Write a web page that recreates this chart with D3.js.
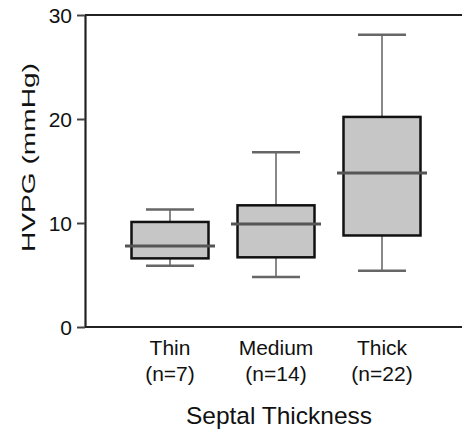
<!DOCTYPE html>
<html>
<head>
<meta charset="utf-8">
<script src="https://cdn.jsdelivr.net/npm/d3@7"></script>
<style>
    body { margin: 0; background: #fff; }
    text { font-family: "Liberation Sans", Arial, sans-serif; fill: #111; }
</style>
</head>
<body>
<div class="chart"></div>
<script>
var categories = ['Thin', 'Medium', 'Thick'];
var nLabels = ['(n=7)', '(n=14)', '(n=22)'];
var whiskerLow = [5.9, 4.8, 5.4];
var q1 = [6.6, 6.7, 8.8];
var median = [7.8, 9.9, 14.8];
var q3 = [10.1, 11.7, 20.2];
var whiskerHigh = [11.3, 16.8, 28.1];
var yTicks = [0, 10, 20, 30];

draw();

function draw() {
    var width = 462;
    var height = 436;

    var boxes = categories.map(function (c, i) {
        return {
            label: c,
            n: nLabels[i],
            low: whiskerLow[i],
            q1: q1[i],
            median: median[i],
            q3: q3[i],
            high: whiskerHigh[i]
        };
    });

    var svg = d3.select('.chart')
        .append('svg')
        .attr('width', width)
        .attr('height', height);

    var x = d3.scalePoint()
        .domain(categories)
        .range([170, 382]);

    var y = d3.scaleLinear()
        .domain([0, 30])
        .range([327, 15]);

    var axisX = 85;
    var boxW = 77;
    var medW = 90;
    var capW = 48;

    // top frame line
    svg.append('line')
        .attr('x1', axisX).attr('x2', width)
        .attr('y1', y(30)).attr('y2', y(30))
        .attr('stroke', '#222').attr('stroke-width', 2.2);

    // y axis
    var yAxis = svg.append('g')
        .attr('transform', 'translate(' + axisX + ',0)')
        .call(d3.axisLeft(y).tickValues(yTicks).tickSize(8).tickPadding(5).tickSizeOuter(0));
    yAxis.select('.domain').attr('stroke', '#222').attr('stroke-width', 2.2);
    yAxis.selectAll('.tick line').attr('stroke', '#444').attr('stroke-width', 2);
    yAxis.selectAll('.tick text')
        .style('font-size', '21px')
        .attr('fill', '#111')
        .attr('dy', '0.36em');

    // x axis line
    svg.append('line')
        .attr('x1', axisX).attr('x2', width)
        .attr('y1', y(0)).attr('y2', y(0))
        .attr('stroke', '#222').attr('stroke-width', 2.2);

    var g = svg.selectAll('.box')
        .data(boxes)
        .enter()
        .append('g')
        .attr('class', 'box');

    // whisker stems
    g.append('line')
        .attr('x1', function (d) { return x(d.label); })
        .attr('x2', function (d) { return x(d.label); })
        .attr('y1', function (d) { return y(d.high); })
        .attr('y2', function (d) { return y(d.q3); })
        .attr('stroke', '#888').attr('stroke-width', 2);
    g.append('line')
        .attr('x1', function (d) { return x(d.label); })
        .attr('x2', function (d) { return x(d.label); })
        .attr('y1', function (d) { return y(d.q1); })
        .attr('y2', function (d) { return y(d.low); })
        .attr('stroke', '#888').attr('stroke-width', 2);

    // whisker caps
    ['high', 'low'].forEach(function (k) {
        g.append('line')
            .attr('x1', function (d) { return x(d.label) - capW / 2; })
            .attr('x2', function (d) { return x(d.label) + capW / 2; })
            .attr('y1', function (d) { return y(d[k]); })
            .attr('y2', function (d) { return y(d[k]); })
            .attr('stroke', '#666').attr('stroke-width', 2.5);
    });

    // boxes
    g.append('rect')
        .attr('x', function (d) { return x(d.label) - boxW / 2; })
        .attr('y', function (d) { return y(d.q3); })
        .attr('width', boxW)
        .attr('height', function (d) { return y(d.q1) - y(d.q3); })
        .attr('fill', '#c6c6c6')
        .attr('stroke', '#111')
        .attr('stroke-width', 2.5);

    // medians
    g.append('line')
        .attr('x1', function (d) { return x(d.label) - medW / 2; })
        .attr('x2', function (d) { return x(d.label) + medW / 2; })
        .attr('y1', function (d) { return y(d.median); })
        .attr('y2', function (d) { return y(d.median); })
        .attr('stroke', '#555').attr('stroke-width', 3);

    // category labels
    g.append('text')
        .attr('x', function (d) { return x(d.label); })
        .attr('y', 355)
        .attr('text-anchor', 'middle')
        .style('font-size', '21px')
        .text(function (d) { return d.label; });
    g.append('text')
        .attr('x', function (d) { return x(d.label); })
        .attr('y', 381)
        .attr('text-anchor', 'middle')
        .style('font-size', '21px')
        .text(function (d) { return d.n; });

    // axis titles
    svg.append('text')
        .attr('x', 279)
        .attr('y', 424)
        .attr('text-anchor', 'middle')
        .style('font-size', '24.5px')
        .text('Septal Thickness');

    svg.append('text')
        .attr('transform', 'translate(35,157.5) rotate(-90)')
        .attr('text-anchor', 'middle')
        .attr('textLength', 189)
        .attr('lengthAdjust', 'spacingAndGlyphs')
        .style('font-size', '19px')
        .text('HVPG (mmHg)');
}
</script>
</body>
</html>
